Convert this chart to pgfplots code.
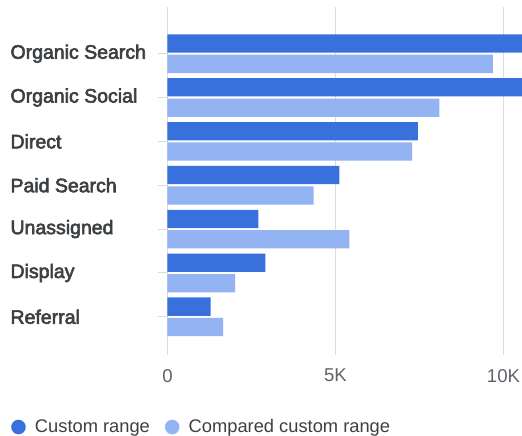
\documentclass[border=0pt]{standalone}
\usepackage{pgfplots}
\pgfplotsset{compat=1.18}
\usepackage{fontspec}
\setmainfont{Liberation Sans}
\newfontfamily\medfont[FakeBold=3]{Liberation Sans}
\definecolor{darkblue}{HTML}{3871DC}
\definecolor{lightblue}{HTML}{94B3F2}
\definecolor{gridgray}{HTML}{DADCE0}
\definecolor{labelgray}{HTML}{3C4043}
\definecolor{tickgray}{HTML}{5F6368}
\begin{document}
\begin{tikzpicture}
\path[use as bounding box] (0,0) rectangle (522pt,436pt);
\begin{axis}[
  at={(167.5pt,81pt)}, anchor=south west,
  scale only axis, width=354.5pt, height=348pt,
  xbar, bar width=18.3pt,
  xmin=0, xmax=10551,
  ymin=-0.871, ymax=7.065,
  axis line style={draw=none},
  scaled x ticks=false,
  xtick={0,5000,10000},
  xticklabels={0,5K,10K},
  xmajorgrids,
  grid style={color=gridgray, line width=1pt},
  xtick style={draw=none},
  xticklabel style={font=\fontsize{18.6}{20}\selectfont, text=tickgray, yshift=-1pt},
  ytick={0,1,2,3,4,5,6},
  yticklabels={Referral,Display,Unassigned,Paid Search,Direct,Organic Social,Organic Search},
  tick align=outside,
  major tick length=9.5pt,
  ytick style={draw=gridgray, line width=1pt},
  yticklabel style={font=\medfont\fontsize{19.5}{21}\selectfont, text=labelgray, anchor=west, xshift=-151pt},
  legend style={at={(axis description cs:-0.4415,-0.207)}, anchor=west, draw=none, fill=none,
    inner sep=0pt, legend columns=2, font=\fontsize{18.3}{20}\selectfont, text=labelgray,
    /tikz/every even column/.append style={column sep=13pt}},
  legend cell align=left,
  legend image code/.code={\fill[#1] (0pt,0pt) circle (7.3pt); \path (14.5pt,0pt);},
  every axis plot/.append style={draw=none},
]
\addplot[fill=darkblue, bar shift=10.2pt] coordinates {
(1285,0) (2912,1) (2703,2) (5113,3) (7455,4) (11500,5) (11500,6)};
\addplot[fill=lightblue, bar shift=-10.2pt] coordinates {
(1652,0) (2009,1) (5412,2) (4350,3) (7277,4) (8089,5) (9687,6)};
\legend{Custom range, Compared custom range}
\end{axis}
\end{tikzpicture}
\end{document}
